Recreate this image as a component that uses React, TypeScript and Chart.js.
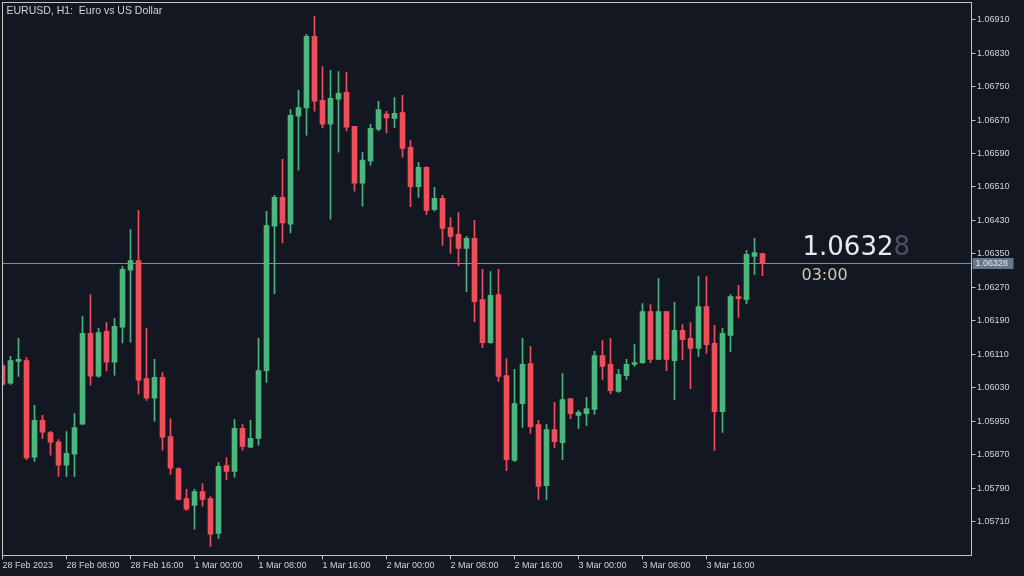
import React, { useEffect, useRef } from 'react';
import { Chart, registerables } from 'chart.js';

Chart.register(...registerables);

const chartTitle = 'EURUSD, H1:  Euro vs US Dollar';
const timeLabels = [
  '28 Feb 2023', '28 Feb 08:00', '28 Feb 16:00', '1 Mar 00:00', '1 Mar 08:00', '1 Mar 16:00',
  '2 Mar 00:00', '2 Mar 08:00', '2 Mar 16:00', '3 Mar 00:00', '3 Mar 08:00', '3 Mar 16:00',
];
const barsPerLabel = 8;
const countdown = '03:00';

const opens = [
  1.06083, 1.06041, 1.06093, 1.06095, 1.05864, 1.05952, 1.05923, 1.05901, 1.05845, 1.05871,
  1.05943, 1.06160, 1.06058, 1.06165, 1.06091, 1.06175, 1.06311, 1.06334, 1.06052, 1.06005,
  1.06055, 1.05913, 1.05837, 1.05765, 1.05749, 1.05782, 1.05765, 1.05682, 1.05844, 1.05830,
  1.05933, 1.05888, 1.05909, 1.06071, 1.06416, 1.06485, 1.06421, 1.06679, 1.06699, 1.06870,
  1.06717, 1.06660, 1.06720, 1.06736, 1.06655, 1.06519, 1.06572, 1.06648, 1.06684, 1.06674,
  1.06688, 1.06605, 1.06511, 1.06557, 1.06456, 1.06483, 1.06413, 1.06397, 1.06363, 1.06387,
  1.06241, 1.06138, 1.06253, 1.06059, 1.05856, 1.05992, 1.06088, 1.05942, 1.05796, 1.05930,
  1.05899, 1.06004, 1.05964, 1.05968, 1.05978, 1.06107, 1.06086, 1.06021, 1.06059, 1.06086,
  1.06090, 1.06212, 1.06098, 1.06212, 1.06095, 1.06167, 1.06148, 1.06124, 1.06224, 1.06136,
  1.05973, 1.06155, 1.06248, 1.06241, 1.06344, 1.06351,
];
const highs = [
  1.06090, 1.06105, 1.06148, 1.06102, 1.05988, 1.05964, 1.05926, 1.05906, 1.05925, 1.05968,
  1.06200, 1.06253, 1.06172, 1.06186, 1.06196, 1.06320, 1.06408, 1.06454, 1.06172, 1.06098,
  1.06066, 1.05956, 1.05839, 1.05787, 1.05787, 1.05801, 1.05770, 1.05851, 1.05863, 1.05954,
  1.05942, 1.05952, 1.06148, 1.06452, 1.06490, 1.06576, 1.06695, 1.06741, 1.06875, 1.06918,
  1.06798, 1.06789, 1.06786, 1.06784, 1.06655, 1.06593, 1.06660, 1.06715, 1.06691, 1.06724,
  1.06729, 1.06621, 1.06569, 1.06559, 1.06509, 1.06490, 1.06437, 1.06449, 1.06392, 1.06430,
  1.06313, 1.06308, 1.06313, 1.06100, 1.06074, 1.06148, 1.06129, 1.05952, 1.05942, 1.05995,
  1.06064, 1.06004, 1.05976, 1.06007, 1.06117, 1.06143, 1.06148, 1.06074, 1.06098, 1.06133,
  1.06231, 1.06229, 1.06291, 1.06213, 1.06234, 1.06181, 1.06186, 1.06296, 1.06296, 1.06179,
  1.06172, 1.06253, 1.06275, 1.06358, 1.06387, 1.06352,
];
const lows = [
  1.06035, 1.06038, 1.06057, 1.05858, 1.05854, 1.05909, 1.05869, 1.05818, 1.05818, 1.05818,
  1.05942, 1.06036, 1.06055, 1.06070, 1.06060, 1.06137, 1.06139, 1.06015, 1.06000, 1.05950,
  1.05881, 1.05823, 1.05762, 1.05737, 1.05692, 1.05747, 1.05651, 1.05670, 1.05811, 1.05816,
  1.05881, 1.05887, 1.05893, 1.06043, 1.06255, 1.06376, 1.06400, 1.06550, 1.06634, 1.06691,
  1.06651, 1.06433, 1.06593, 1.06644, 1.06500, 1.06464, 1.06562, 1.06644, 1.06639, 1.06652,
  1.06581, 1.06463, 1.06485, 1.06444, 1.06452, 1.06370, 1.06351, 1.06322, 1.06260, 1.06188,
  1.06126, 1.06136, 1.06045, 1.05832, 1.05854, 1.05935, 1.05921, 1.05763, 1.05763, 1.05887,
  1.05858, 1.05956, 1.05933, 1.05940, 1.05966, 1.06050, 1.06016, 1.06019, 1.06050, 1.06081,
  1.06088, 1.06090, 1.06097, 1.06071, 1.06002, 1.06098, 1.06028, 1.06105, 1.06112, 1.05880,
  1.05923, 1.06117, 1.06198, 1.06231, 1.06301, 1.06298,
];
const closes = [
  1.06038, 1.06095, 1.06098, 1.05862, 1.05952, 1.05924, 1.05900, 1.05845, 1.05873, 1.05935,
  1.06160, 1.06058, 1.06162, 1.06091, 1.06177, 1.06313, 1.06334, 1.06048, 1.06005, 1.06055,
  1.05912, 1.05838, 1.05763, 1.05740, 1.05782, 1.05763, 1.05680, 1.05842, 1.05830, 1.05933,
  1.05890, 1.05909, 1.06071, 1.06418, 1.06485, 1.06424, 1.06681, 1.06700, 1.06870, 1.06715,
  1.06660, 1.06722, 1.06734, 1.06653, 1.06519, 1.06574, 1.06650, 1.06695, 1.06675, 1.06686,
  1.06602, 1.06511, 1.06557, 1.06454, 1.06483, 1.06411, 1.06392, 1.06363, 1.06387, 1.06236,
  1.06138, 1.06251, 1.06057, 1.05858, 1.05992, 1.06086, 1.05937, 1.05794, 1.05930, 1.05901,
  1.06002, 1.05968, 1.05971, 1.05980, 1.06107, 1.06081, 1.06023, 1.06062, 1.06086, 1.06090,
  1.06212, 1.06098, 1.06212, 1.06098, 1.06167, 1.06145, 1.06124, 1.06224, 1.06133, 1.05973,
  1.06160, 1.06248, 1.06243, 1.06349, 1.06353, 1.06328,
];
const priceTicks = [
  1.05710, 1.05790, 1.05870, 1.05950, 1.06030, 1.06110, 1.06190, 1.06270,
  1.06350, 1.06430, 1.06510, 1.06590, 1.06670, 1.06750, 1.06830, 1.06910,
];
const priceMin = 1.05629;
const priceMax = 1.06951;
const visibleBars = 121.125;

const BG = '#131722';
const UP = '#4db67f';
const DOWN = '#ef4f5b';
const FG = '#d4d4d4';
const FRAME = '#c4c4c4';

export default function App() {
  const canvasRef = useRef<HTMLCanvasElement | null>(null);

  useEffect(() => {
    const canvas = canvasRef.current;
    if (!canvas) return;
    const colors = opens.map((o, i) => (closes[i] >= o ? UP : DOWN));
    const lastIdx = closes.length - 1;
    const lastClose = closes[lastIdx];

    const overlay = {
      id: 'mtOverlay',
      beforeDraw(chart: any) {
        const { ctx } = chart;
        ctx.save();
        ctx.fillStyle = BG;
        ctx.fillRect(0, 0, chart.width, chart.height);
        ctx.restore();
      },
      beforeDatasetsDraw(chart: any) {
        const { ctx, chartArea } = chart;
        const y = Math.round(chart.scales.y.getPixelForValue(lastClose)) + 0.5;
        ctx.save();
        ctx.strokeStyle = '#858b97';
        ctx.lineWidth = 1;
        ctx.beginPath();
        ctx.moveTo(chartArea.left, y);
        ctx.lineTo(chartArea.right, y);
        ctx.stroke();
        ctx.restore();
      },
      afterDraw(chart: any) {
        const { ctx, chartArea } = chart;
        const ys = chart.scales.y;
        const xs = chart.scales.x;
        ctx.save();
        ctx.strokeStyle = FRAME;
        ctx.lineWidth = 1;
        ctx.strokeRect(chartArea.left, chartArea.top, chartArea.right - chartArea.left, chartArea.bottom - chartArea.top);
        ctx.fillStyle = FG;
        ctx.font = '10.5px "Liberation Sans"';
        ctx.textBaseline = 'middle';
        ctx.textAlign = 'left';
        ctx.fillText(chartTitle, chartArea.left + 4, chartArea.top + 8.5);
        const py = Math.round(ys.getPixelForValue(lastClose));
        ctx.fillStyle = '#66768a';
        ctx.fillRect(chartArea.right + 1, py - 5, 41, 11);
        ctx.fillStyle = '#e4e7eb';
        ctx.font = '9px "Liberation Sans"';
        ctx.fillText(lastClose.toFixed(5), chartArea.right + 4, py + 0.5);
        const txt = lastClose.toFixed(5);
        const main = txt.slice(0, -1);
        const tail = txt.slice(-1);
        const tx = xs.getPixelForValue(lastIdx) + 40;
        ctx.textBaseline = 'alphabetic';
        ctx.font = '26px "DejaVu Sans"';
        ctx.fillStyle = '#e8eaee';
        ctx.fillText(main, tx, py - 8);
        const w = ctx.measureText(main).width;
        ctx.fillStyle = '#4b505c';
        ctx.fillText(tail, tx + w, py - 8);
        ctx.font = '16px "DejaVu Sans"';
        ctx.fillStyle = '#d2c9b4';
        ctx.fillText(countdown, tx - 1, py + 17);
        ctx.restore();
      },
    };

    const chart = new Chart(canvas, {
      type: 'bar',
      data: {
        datasets: [
          {
            label: 'body',
            data: opens.map((o, i) => ({ x: i, y: [o, closes[i]] })) as any,
            backgroundColor: colors,
            barThickness: 5,
            minBarLength: 1,
            grouped: false,
            borderWidth: 0,
          } as any,
          {
            label: 'wick',
            data: opens.map((_, i) => ({ x: i, y: [lows[i], highs[i]] })) as any,
            backgroundColor: colors,
            barThickness: 1,
            grouped: false,
            borderWidth: 0,
          } as any,
        ],
      },
      plugins: [overlay],
      options: {
        animation: false,
        responsive: true,
        maintainAspectRatio: false,
        devicePixelRatio: 1,
        layout: { padding: { left: 2.5, top: 2.5, right: 0, bottom: 0 } },
        plugins: { legend: { display: false }, tooltip: { enabled: false }, title: { display: false } },
        scales: {
          x: {
            type: 'linear',
            min: 0,
            max: visibleBars,
            bounds: 'data',
            offset: false,
            afterBuildTicks: (s: any) => {
              s.ticks = timeLabels.map((_, j) => ({ value: j * barsPerLabel }));
            },
            afterFit: (s: any) => {
              s.height = 20.5;
              s.paddingLeft = 0;
              s.paddingRight = 0;
            },
            border: { display: false },
            grid: { display: true, offset: false, drawOnChartArea: false, drawTicks: true, tickLength: 4, color: FRAME, tickColor: FRAME },
            ticks: {
              autoSkip: false,
              maxRotation: 0,
              minRotation: 0,
              align: 'start',
              padding: 1,
              color: FG,
              font: { family: 'Liberation Sans', size: 9 },
              callback: (_v: any, i: number) => timeLabels[i],
            },
          } as any,
          y: {
            type: 'linear',
            position: 'right',
            min: priceMin,
            max: priceMax,
            afterBuildTicks: (s: any) => {
              s.ticks = priceTicks.map((v) => ({ value: v }));
            },
            afterFit: (s: any) => {
              s.width = 52.5;
              s.paddingTop = 0;
              s.paddingBottom = 0;
            },
            border: { display: false },
            grid: { display: true, drawOnChartArea: false, drawTicks: true, tickLength: 4, color: FRAME, tickColor: FRAME },
            ticks: {
              autoSkip: false,
              padding: 1.5,
              color: FG,
              font: { family: 'Liberation Sans', size: 9 },
              callback: (v: any) => Number(v).toFixed(5),
            },
          } as any,
        },
      },
    });
    return () => chart.destroy();
  }, []);

  return (
    <div style={{ position: 'fixed', left: 0, top: 0, width: 1024, height: 576, background: BG }}>
      <canvas ref={canvasRef} width={1024} height={576} />
    </div>
  );
}
